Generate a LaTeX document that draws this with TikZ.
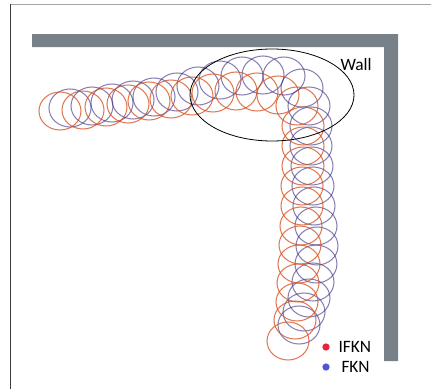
\documentclass[tikz,border=0pt]{standalone}
\usepackage{fontspec}
\setmainfont{Carlito}
\definecolor{wallgray}{RGB}{121,129,136}
\definecolor{ifknorange}{RGB}{214,78,28}
\definecolor{fknblue}{RGB}{58,44,128}
\definecolor{ifkndot}{RGB}{232,36,58}
\definecolor{fkndot}{RGB}{84,84,214}
\tikzset{every picture/.style={line width=0.75pt}}
\tikzset{
  ifkn/.style={draw=ifknorange, draw opacity=0.75, line width=0.8pt},
  fkn/.style={draw=fknblue, draw opacity=0.6, line width=0.8pt},
  legenddot/.style={circle, inner sep=0pt, minimum size=5.5pt},
  legendtext/.style={anchor=west, inner sep=0.75pt, font=\fontsize{13}{15}\selectfont}
}

\begin{document}
\begin{tikzpicture}[x=0.75pt,y=0.75pt,yscale=-1,xscale=1]
        \useasboundingbox (0,0) rectangle (431,389);
        %Frame
        \draw [color={rgb, 255:red, 165; green, 165; blue, 165 }, line width=1.1pt] (10,4.5) -- (431,4.5) ;
        \draw [color={rgb, 255:red, 60; green, 60; blue, 60 }, line width=0.9pt] (10.5,4) -- (10.5,389) ;
        %Wall
        \fill [wallgray] (32,34) -- (398,34) -- (398,361) -- (384,361) -- (384,47) -- (32,47) -- cycle ;
        %FKN path
        \foreach \x/\y in {70/108,92/106,112/103,133/100,154/97,177/92,198/86,220/80,242/76,263/75,284/76,302/88,309/106,311/126,311/146,312/166,313/186,314/206,316/226,317/246,316/264,313/282,309/298,304/312,299/325}
          \draw [fkn] (\x,\y) ellipse [x radius=21, y radius=19] ;
        %IFKN path
        \foreach \x/\y in {60/111,83/110,106/107,128/104,149/101,171/99,192/96,213/93,236/91,257/92,278/95,297/106,303/126,303/146,303/166,302/186,302/206,301/226,300/245,299/264,298/283,297/302,295/320,288/341}
          \draw [ifkn] (\x,\y) ellipse [x radius=21, y radius=19] ;
        %Ellipse
        \draw [line width=0.6pt] (272,95) ellipse [x radius=82, y radius=46] ;
        % Text Node
        \node (wall) [legendtext] at (339,65) {Wall};
        % Legend
        \node (ifkndot) [legenddot, fill=ifkndot] at (326,347) {};
        \node (ifknlabel) [legendtext] at (337,347) {IFKN};
        \node (fkndot) [legenddot, fill=fkndot] at (326,367) {};
        \node (fknlabel) [legendtext] at (340,367) {FKN};
    \end{tikzpicture}
\end{document}
